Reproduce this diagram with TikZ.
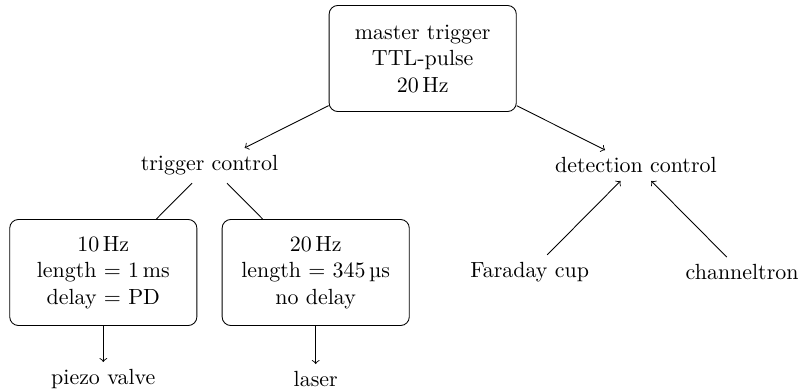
\documentclass[tikz,border=0pt]{standalone}
\usepackage{siunitx}
\begin{document}
\begin{tikzpicture}[x=0.456pt,y=-0.456pt,
  box/.style={draw,rounded corners=4pt,align=center,minimum width=3cm,minimum height=1.7cm},
  lbl/.style={align=center},
  arr/.style={->},
  plain/.style={-}]
\useasboundingbox (0,0) rectangle (800,392);
\node[box] (root) at (422.7,58.5) {master trigger\\TTL-pulse\\\SI{20}{\hertz}};
\node[lbl] (tc) at (209.5,165.5) {trigger control};
\node[lbl] (dc) at (635.9,165.5) {detection control};
\node[box] (b1) at (103.3,272.5) {\SI{10}{\hertz}\\length $=$ \SI{1}{\milli\second}\\delay $=$ PD};
\node[box] (b2) at (315.7,272.5) {\SI{20}{\hertz}\\length $=$ \SI{345}{\micro\second}\\no delay};
\node[lbl] (fc) at (529.7,272.5) {Faraday cup};
\node[lbl] (ch) at (742.1,272.5) {channeltron};
\node[lbl] (pv) at (103.3,379.5) {piezo valve};
\node[lbl] (la) at (315.7,379.5) {laser};
\draw[arr] (root) -- (tc);
\draw[arr] (root) -- (dc);
\draw[plain] (tc) -- (b1);
\draw[plain] (tc) -- (b2);
\draw[arr] (fc) -- (dc);
\draw[arr] (ch) -- (dc);
\draw[arr] (b1) -- (pv);
\draw[arr] (b2) -- (la);
\end{tikzpicture}
\end{document}
